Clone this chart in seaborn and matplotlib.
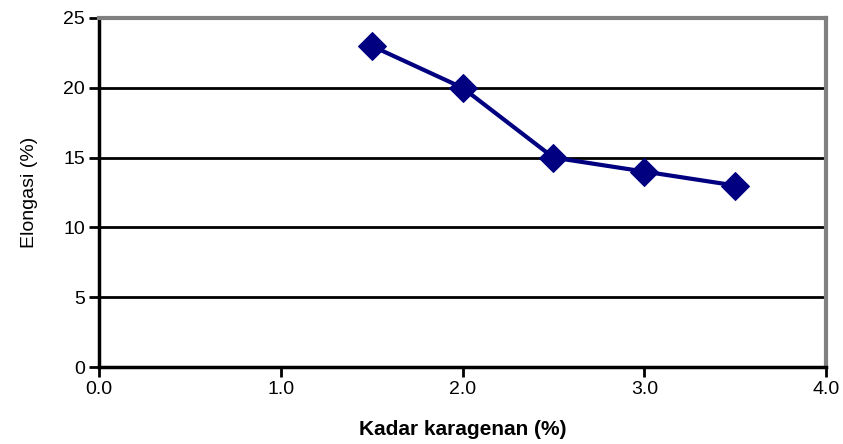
import matplotlib.pyplot as plt
import numpy as np
import pandas as pd
import seaborn as sns

# kadar karagenan (%) vs elongasi (%)
kadar = [1.5, 2.0, 2.5, 3.0, 3.5]
elongasi = [23, 20, 15, 14, 13]

df = pd.DataFrame({"kadar": kadar, "elongasi": elongasi})

sns.set_style("white")
plt.rcParams["font.family"] = ["Liberation Sans", "DejaVu Sans"]
plt.rcParams["text.color"] = "black"
plt.rcParams["axes.labelcolor"] = "black"
plt.rcParams["xtick.color"] = "black"
plt.rcParams["ytick.color"] = "black"

fig = plt.figure(figsize=(8.43, 4.44), dpi=100)
ax = fig.add_axes([0.1174, 0.1734, 0.8626, 0.7861])

for yv in [5, 10, 15, 20]:
    ax.axhline(yv, color="black", lw=2, zorder=1)

sns.lineplot(
    data=df, x="kadar", y="elongasi", ax=ax,
    color="#000080", lw=3, marker="D", markersize=14,
    markeredgecolor="#000080", zorder=3,
)

ax.set_xlim(0, 4)
ax.set_ylim(0, 25)
ax.set_xticks(np.arange(0, 4.01, 1.0))
ax.set_xticklabels([f"{v:.1f}" for v in np.arange(0, 4.01, 1.0)])
ax.set_yticks(range(0, 26, 5))

for side in ["top", "right"]:
    ax.spines[side].set_color("#808080")
    ax.spines[side].set_linewidth(3)
for side in ["left", "bottom"]:
    ax.spines[side].set_color("black")
    ax.spines[side].set_linewidth(2.5)

ax.tick_params(axis="both", direction="out", length=7, width=2, color="black",
               labelsize=14, pad=3, bottom=True, left=True)

ax.set_xlabel("Kadar karagenan (%)", fontsize=15, fontweight="bold", labelpad=16)
ax.set_ylabel("Elongasi (%)", fontsize=14, labelpad=18)

fig.savefig("out.png", dpi=100)
